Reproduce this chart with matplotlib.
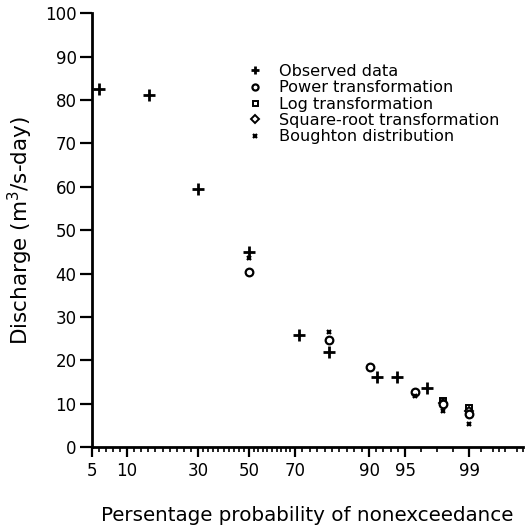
import numpy as np
import matplotlib
matplotlib.use('Agg')
import matplotlib.pyplot as plt
from matplotlib.ticker import FixedLocator, NullFormatter

plt.rcParams['font.family'] = ['DejaVu Sans']

# probability-paper anchors (percent -> relative paper position)
scale_pct = [5, 10, 30, 50, 70, 90, 95, 99, 99.9]
scale_pos = [0, 35, 106, 157, 203, 277, 313, 377, 431]

x_major = [5, 10, 30, 50, 70, 90, 95, 99]
x_minor = [6, 7, 8, 9, 12, 14, 16, 18, 20, 22, 24, 26, 28,
           32, 34, 36, 38, 40, 42, 44, 46, 48, 52, 54, 56, 58, 60, 62, 64, 66, 68,
           72, 74, 76, 78, 80, 82, 84, 86, 88, 91, 92, 93, 94, 96, 97, 98,
           99.2, 99.4, 99.5, 99.6, 99.8, 99.9]
y_ticks = list(range(0, 101, 10))

# Observed data
obs_p = [6.0, 16.2, 30, 50, 71, 79.2, 91.1, 93.9, 96.4]
obs_q = [82.5, 81.2, 59.6, 45.0, 25.8, 22.0, 16.2, 16.1, 13.6]
# Power transformation
pow_p = [50, 79.2, 90.1, 95.6, 97.4, 99.0]
pow_q = [40.3, 24.6, 18.5, 12.7, 9.9, 7.7]
# Log transformation
log_p = [97.4, 99.0]
log_q = [10.7, 8.9]
# Square-root transformation
sqrt_p = [97.4, 99.0]
sqrt_q = [10.2, 8.2]
# Boughton distribution
bou_p = [50, 79.2, 95.6, 97.4, 99.0]
bou_q = [43.5, 26.5, 11.8, 8.2, 5.4]


def fwd(p):
    return np.interp(p, scale_pct, scale_pos)


def inv(x):
    return np.interp(x, scale_pos, scale_pct)


fig = plt.figure(figsize=(5.27, 5.29), dpi=100)
ax = fig.add_axes([92 / 527, 1 - 447 / 529, (523 - 92) / 527, (447 - 13.3) / 529])
ax.set_xscale('function', functions=(fwd, inv))
ax.set_xlim(5, 99.9)
ax.set_ylim(0, 100)

k = 'black'
ax.plot(obs_p, obs_q, linestyle='none', marker='+', ms=8, mew=2.0, color=k,
        label='Observed data', zorder=5)
ax.plot(pow_p, pow_q, linestyle='none', marker='o', ms=5.5, mew=1.6, mfc='white',
        mec=k, label='Power transformation', zorder=4)
ax.plot(log_p, log_q, linestyle='none', marker='s', ms=4.5, mew=1.4, mfc='white',
        mec=k, label='Log transformation', zorder=3)
ax.plot(sqrt_p, sqrt_q, linestyle='none', marker='D', ms=4.5, mew=1.4, mfc='white',
        mec=k, label='Square-root transformation', zorder=3)
ax.plot(bou_p, bou_q, linestyle='none', marker='x', ms=3.5, mew=1.6, color=k,
        label='Boughton distribution', zorder=6)

for s in ['top', 'right']:
    ax.spines[s].set_visible(False)
for s in ['left', 'bottom']:
    ax.spines[s].set_linewidth(2.0)

ax.xaxis.set_major_locator(FixedLocator(x_major))
ax.xaxis.set_minor_locator(FixedLocator(x_minor))
ax.xaxis.set_minor_formatter(NullFormatter())
ax.set_xticklabels([str(v) for v in x_major])
ax.set_yticks(y_ticks)
ax.set_yticklabels([str(v) for v in y_ticks])

ax.tick_params(axis='x', which='major', direction='out', length=7, width=1.6,
               labelsize=12, pad=3.5)
ax.tick_params(axis='x', which='minor', direction='out', length=3.5, width=1.2)
ax.tick_params(axis='y', which='major', direction='out', length=8.5, width=1.6,
               labelsize=12, pad=2.5)

ax.set_xlabel('Persentage probability of nonexceedance', fontsize=14.3, labelpad=19)
ax.set_ylabel('Discharge (m$^3$/s-day)', fontsize=15.5)
ax.yaxis.set_label_coords(-0.132, 0.5)

ax.legend(loc='upper left', bbox_to_anchor=(247 / 527, 1 - 64 / 529),
          bbox_transform=fig.transFigure, frameon=False, fontsize=11.6,
          handlelength=1.0, handletextpad=1.0, borderpad=0, borderaxespad=0,
          labelspacing=0.08, markerscale=0.8)

fig.savefig('out.png', dpi=100)
